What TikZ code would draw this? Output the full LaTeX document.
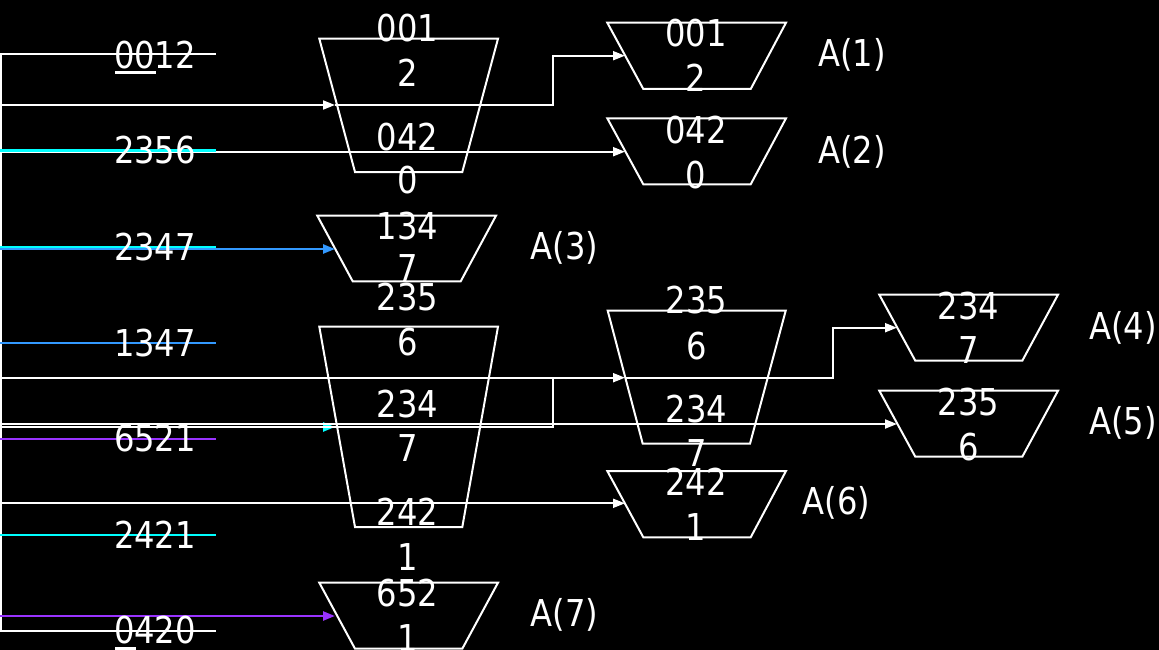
\documentclass[tikz,border=0pt]{standalone}
\usepackage{fontspec}
\setmainfont{DejaVu Sans}[FakeStretch=0.87]
\usetikzlibrary{arrows.meta}
\definecolor{cyanl}{RGB}{0,255,255}
\definecolor{bluel}{RGB}{51,153,255}
\definecolor{purplel}{RGB}{153,51,255}
\begin{document}
\begin{tikzpicture}[x=1pt,y=-1pt,
  txt/.style={text=white, inner sep=0pt, anchor=base, font=\fontsize{37}{44}\selectfont},
  lbl/.style={txt, anchor=base west},
  wl/.style={draw=white, line width=2pt},
  cl/.style={draw=cyanl, line width=2.4pt},
  bl/.style={draw=bluel, line width=2.4pt},
  pl/.style={draw=purplel, line width=2.4pt},
  tip/.style={-{Triangle[length=12pt,width=9pt]}},
  funnel/.style={draw=white, line width=2pt, line join=miter},
  uline/.style={fill=white}]
\fill[black] (0,0) rectangle (1159,650);
\useasboundingbox (0,0) rectangle (1159,650);

% ---------- funnels ----------
\draw[funnel] (319.3,38.7) -- (498,38.7) -- (462.3,172) -- (355,172) -- cycle;     % F1
\draw[funnel] (317.3,215.7) -- (496,215.7) -- (460.7,281.3) -- (352.7,281.3) -- cycle; % A3
\draw[funnel] (319.3,326.7) -- (498,326.7) -- (462.3,527) -- (355,527) -- cycle;    % F2
\draw[funnel] (319.3,582.7) -- (498,582.7) -- (462.3,648.7) -- (355,648.7) -- cycle; % A7
\draw[funnel] (607.3,22.7) -- (786,22.7) -- (750.7,89) -- (643.3,89) -- cycle;      % A1
\draw[funnel] (607.3,118.3) -- (786,118.3) -- (750.7,184.3) -- (643.3,184.3) -- cycle; % A2
\draw[funnel] (607.7,310.7) -- (785.7,310.7) -- (750,443.7) -- (642.7,443.7) -- cycle; % M
\draw[funnel] (607.3,471) -- (786,471) -- (750.7,537.3) -- (643.3,537.3) -- cycle;  % A6
\draw[funnel] (879.3,294.7) -- (1058,294.7) -- (1022.3,360.7) -- (915.3,360.7) -- cycle; % A4
\draw[funnel] (879.3,390.7) -- (1058,390.7) -- (1022.3,456.7) -- (915.3,456.7) -- cycle; % A5

% ---------- named points ----------
\coordinate (r1) at (0,54.5);   \coordinate (e1) at (216,54.5);
\coordinate (vb) at (1,630.7);  \coordinate (vt) at (1,54.5);
\coordinate (r2) at (0,105);    \coordinate (f1in) at (335,105);
\coordinate (k1) at (553,105);  \coordinate (a1in) at (625,55.7);
\coordinate (r3) at (0,151.7);  \coordinate (a2in) at (625,151.7);
\coordinate (c3) at (0,150.7);  \coordinate (c3e) at (216,150.7);
\coordinate (c4) at (0,246.7);  \coordinate (c4e) at (216,246.7);
\coordinate (b4) at (0,249);    \coordinate (a3in) at (335,249);
\coordinate (b5) at (0,342.7);  \coordinate (b5e) at (216,342.7);
\coordinate (r6) at (0,377.7);  \coordinate (min) at (625,377.7);
\coordinate (k6) at (833,377.7); \coordinate (a4in) at (897,327.7);
\coordinate (r7) at (0,424);    \coordinate (a5in) at (897,424);
\coordinate (r8) at (0,426.5);  \coordinate (k8) at (553,426.5); \coordinate (k8t) at (553,377.7);
\coordinate (c9) at (0,427);    \coordinate (f2in) at (335,427);
\coordinate (p10) at (0,439);   \coordinate (p10e) at (216,439);
\coordinate (r11) at (0,503.3); \coordinate (a6in) at (625,503.3);
\coordinate (c12) at (0,535);   \coordinate (c12e) at (216,535);
\coordinate (p13) at (0,616);   \coordinate (a7in) at (335,616);
\coordinate (r14) at (0,630.7); \coordinate (e14) at (216,630.7);

% ---------- connectors ----------
\draw[cl, tip] (c9) -- (f2in);
\draw[wl] (vt) -- (vb);
\draw[wl] (r1) -- (e1);
\draw[wl, tip] (r2) -- (f1in);
\draw[wl, tip] (f1in) -- (k1) |- (a1in);
\draw[wl, tip] (r3) -- (a2in);
\draw[cl] (c3) -- (c3e);
\draw[cl] (c4) -- (c4e);
\draw[bl, tip] (b4) -- (a3in);
\draw[bl] (b5) -- (b5e);
\draw[wl, tip] (r6) -- (min);
\draw[wl, tip] (min) -- (k6) |- (a4in);
\draw[wl] (r8) -- (k8) -- (k8t);
\draw[wl, tip] (r7) -- (a5in);
\draw[pl] (p10) -- (p10e);
\draw[wl, tip] (r11) -- (a6in);
\draw[cl] (c12) -- (c12e);
\draw[pl, tip] (p13) -- (a7in);
\draw[wl] (r14) -- (e14);

% ---------- left labels ----------
\node[txt] (n0012) at (155,68.3) {0012};
\node[txt] (n2356) at (155,163.3) {2356};
\node[txt] (n2347) at (155,260) {2347};
\node[txt] (n1347) at (155,356.7) {1347};
\node[txt] (n6521) at (155,451.7) {6521};
\node[txt] (n2421) at (155,548.3) {2421};
\node[txt] (n0420) at (155,643.3) {0420};
\fill[uline] (115,71) rectangle (156,74.3);
\fill[uline] (115,647.3) rectangle (136,650);

% ---------- funnel texts ----------
\node[txt] (f1a) at (407.5,41.7) {001};
\node[txt] (f1b) at (407.5,86.7) {2};
\node[txt] (f1c) at (407.5,150) {042};
\node[txt] (f1d) at (407.5,193.3) {0};
\node[txt] (a3a) at (407.5,239.3) {134};
\node[txt] (a3b) at (407.5,281.7) {7};
\node[txt] (f2a) at (407.5,310) {235};
\node[txt] (f2b) at (407.5,355) {6};
\node[txt] (f2c) at (407.5,417.3) {234};
\node[txt] (f2d) at (407.5,461.7) {7};
\node[txt] (f2e) at (407.5,525) {242};
\node[txt] (f2f) at (407.5,570) {1};
\node[txt] (a7a) at (407.5,606.7) {652};
\node[txt] (a7b) at (407.5,651.7) {1};
\node[txt] (a1a) at (696,46.7) {001};
\node[txt] (a1b) at (696,91.7) {2};
\node[txt] (a2a) at (696,143.3) {042};
\node[txt] (a2b) at (696,188.3) {0};
\node[txt] (ma) at (696.7,313.3) {235};
\node[txt] (mb) at (696.7,359) {6};
\node[txt] (mc) at (696.7,422.7) {234};
\node[txt] (md) at (696.7,466.7) {7};
\node[txt] (a6a) at (696,495) {242};
\node[txt] (a6b) at (696,540) {1};
\node[txt] (a4a) at (968.3,319.3) {234};
\node[txt] (a4b) at (968.3,363.3) {7};
\node[txt] (a5a) at (968.3,415) {235};
\node[txt] (a5b) at (968.3,460) {6};

% ---------- result labels ----------
\node[lbl] (A1) at (818,66.7) {A(1)};
\node[lbl] (A2) at (818,163.3) {A(2)};
\node[lbl] (A3) at (530.7,259.3) {A(3)};
\node[lbl] (A4) at (1089,339.3) {A(4)};
\node[lbl] (A5) at (1089,434.3) {A(5)};
\node[lbl] (A6) at (802.7,514) {A(6)};
\node[lbl] (A7) at (530.7,626.7) {A(7)};
\end{tikzpicture}
\end{document}
